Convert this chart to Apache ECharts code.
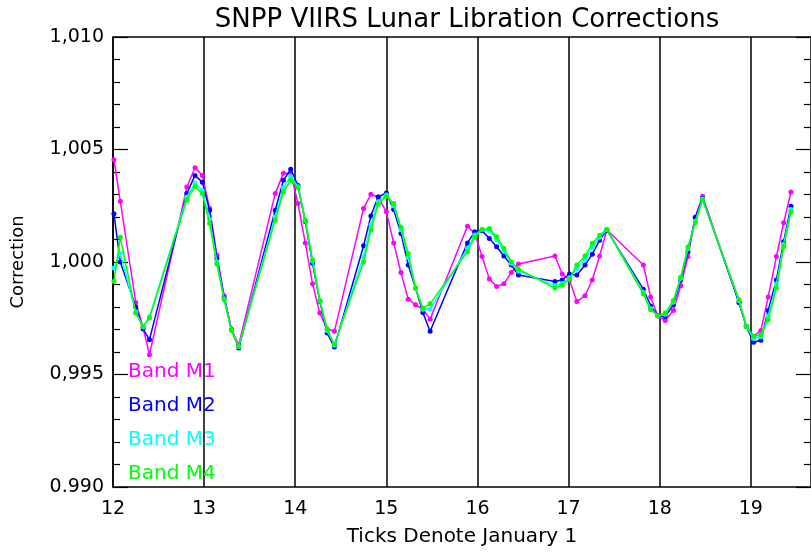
<!DOCTYPE html>
<html>
<head>
<meta charset="utf-8">
<script src="https://cdn.jsdelivr.net/npm/echarts@6/dist/echarts.min.js"></script>
<style>
  html, body { margin: 0; padding: 0; background: #fff; }
  #chart { width: 811px; height: 556px; }
</style>
</head>
<body>
<div id="chart"></div>
<script>
// observation times (fractional year, ticks denote January 1)
const years = [
  12.01, 12.08, 12.25, 12.33, 12.40, 12.81, 12.90, 12.98, 13.06, 13.14, 13.22, 13.30, 13.38,
  13.78, 13.87, 13.95, 14.03, 14.11, 14.19, 14.27, 14.35, 14.43,
  14.75, 14.83, 14.91, 15.00, 15.08, 15.16, 15.24, 15.32, 15.40, 15.48,
  15.89, 15.97, 16.05, 16.13, 16.21, 16.29, 16.37, 16.45,
  16.85, 16.93, 17.01, 17.09, 17.18, 17.26, 17.34, 17.42,
  17.82, 17.90, 17.98, 18.06, 18.15, 18.23, 18.31, 18.39, 18.47,
  18.87, 18.95, 19.03, 19.11, 19.19, 19.28, 19.36, 19.44
];
const bandM1 = [
  1.00454, 1.00270, 0.99820, 0.99710, 0.99588, 1.00333, 1.00419, 1.00385, 1.00238, 1.00030, 0.99850, 0.99700, 0.99633,
  1.00304, 1.00395, 1.00395, 1.00260, 1.00085, 0.99903, 0.99773, 0.99702, 0.99692,
  1.00238, 1.00301, 1.00289, 1.00223, 1.00085, 0.99953, 0.99835, 0.99810, 0.99791, 0.99746,
  1.00159, 1.00127, 1.00024, 0.99925, 0.99891, 0.99903, 0.99953, 0.99991,
  1.00027, 0.99947, 0.99920, 0.99824, 0.99850, 0.99920, 1.00027, 1.00142,
  0.99987, 0.99844, 0.99760, 0.99740, 0.99785, 0.99894, 1.00024, 1.00200, 1.00292,
  0.99820, 0.99714, 0.99670, 0.99696, 0.99844, 1.00024, 1.00174, 1.00311
];
const bandM2 = [
  1.00215, 1.00000, 0.99800, 0.99702, 0.99655, 1.00304, 1.00385, 1.00355, 1.00230, 1.00016, 0.99840, 0.99700, 0.99618,
  1.00230, 1.00363, 1.00412, 1.00340, 1.00180, 0.99994, 0.99824, 0.99684, 0.99622,
  1.00072, 1.00205, 1.00289, 1.00307, 1.00233, 1.00127, 0.99987, 0.99884, 0.99776, 0.99692,
  1.00085, 1.00134, 1.00139, 1.00105, 1.00068, 1.00027, 0.99987, 0.99942,
  0.99913, 0.99920, 0.99947, 0.99942, 0.99987, 1.00035, 1.00097, 1.00142,
  0.99879, 0.99805, 0.99761, 0.99758, 0.99810, 0.99920, 1.00046, 1.00198, 1.00282,
  0.99820, 0.99714, 0.99643, 0.99652, 0.99785, 0.99920, 1.00090, 1.00248
];
const bandM3 = [
  0.99973, 1.00038, 0.99778, 0.99712, 0.99757, 1.00288, 1.00350, 1.00318, 1.00190, 1.00000, 0.99836, 0.99698, 0.99624,
  1.00200, 1.00330, 1.00380, 1.00335, 1.00184, 1.00004, 0.99827, 0.99696, 0.99630,
  1.00025, 1.00165, 1.00268, 1.00298, 1.00250, 1.00145, 1.00020, 0.99884, 0.99790, 0.99790,
  1.00060, 1.00120, 1.00145, 1.00140, 1.00100, 1.00050, 0.99995, 0.99960,
  0.99895, 0.99905, 0.99930, 0.99970, 1.00012, 1.00065, 1.00110, 1.00145,
  0.99865, 0.99793, 0.99761, 0.99768, 0.99822, 0.99928, 1.00060, 1.00180, 1.00280,
  0.99828, 0.99714, 0.99660, 0.99668, 0.99760, 0.99900, 1.00078, 1.00233
];
const bandM4 = [
  0.99913, 1.00110, 0.99773, 0.99714, 0.99751, 1.00277, 1.00336, 1.00304, 1.00171, 0.99991, 0.99832, 0.99696, 0.99625,
  1.00186, 1.00311, 1.00363, 1.00330, 1.00186, 1.00009, 0.99829, 0.99702, 0.99633,
  1.00001, 1.00142, 1.00257, 1.00293, 1.00260, 1.00154, 1.00038, 0.99884, 0.99795, 0.99814,
  1.00046, 1.00110, 1.00145, 1.00149, 1.00112, 1.00061, 1.00001, 0.99968,
  0.99884, 0.99898, 0.99923, 0.99987, 1.00027, 1.00083, 1.00119, 1.00145,
  0.99858, 0.99788, 0.99761, 0.99773, 0.99829, 0.99932, 1.00068, 1.00174, 1.00277,
  0.99832, 0.99714, 0.99670, 0.99677, 0.99743, 0.99884, 1.00068, 1.00223
];
const bandNames = ['Band M1', 'Band M2', 'Band M3', 'Band M4'];
const bandColors = ['#ff00ff', '#0000ff', '#00ffff', '#00ff00'];
const yTickLabels = ['0.990', '0,995', '1,000', '1,005', '1,010'];
const xTickLabels = ['12', '13', '14', '15', '16', '17', '18', '19'];

const font = 'DejaVu Sans';
const chart = echarts.init(document.getElementById('chart'));

const yAxisCommon = {
  type: 'value',
  min: 0.990,
  max: 1.010,
  interval: 0.005,
  axisLine: { show: true, lineStyle: { color: '#000', width: 1.5 } },
  axisTick: { show: true, inside: true, length: 15, lineStyle: { color: '#000', width: 1.2 } },
  minorTick: { show: true, splitNumber: 5, length: 7, lineStyle: { color: '#000', width: 1.2 } },
  splitLine: { show: false },
};

const allBands = [bandM1, bandM2, bandM3, bandM4];

chart.setOption({
  animation: false,
  backgroundColor: '#fff',
  title: {
    text: 'SNPP VIIRS Lunar Libration Corrections',
    left: 462,
    textAlign: 'center',
    top: 2,
    textStyle: { fontFamily: font, fontSize: 26, fontWeight: 'normal', color: '#000' },
  },
  legend: {
    orient: 'vertical',
    left: 118,
    top: 357,
    icon: 'none',
    itemWidth: 0,
    itemGap: 14,
    selectedMode: false,
    data: bandNames.map((n, i) => ({
      name: n,
      textStyle: { color: bandColors[i], fontFamily: font, fontSize: 20 },
    })),
  },
  grid: { left: 113, right: -2, top: 37, bottom: 69 },
  xAxis: [
    {
      type: 'value',
      min: 12,
      max: 19.66,
      interval: 1,
      name: 'Ticks Denote January 1',
      nameLocation: 'middle',
      nameGap: 40,
      nameTextStyle: { fontFamily: font, fontSize: 20, color: '#000' },
      axisLine: { show: true, lineStyle: { color: '#000', width: 1.5 } },
      axisTick: { show: false },
      splitLine: { show: true, lineStyle: { color: '#000', width: 1.5 } },
      axisLabel: {
        margin: 13,
        showMaxLabel: false,
        fontFamily: font,
        fontSize: 19,
        color: '#000',
        formatter: (v) => {
          const k = Math.round(v - 12);
          return Math.abs(v - 12 - k) < 1e-6 && xTickLabels[k] ? xTickLabels[k] : '';
        },
      },
    },
    {
      type: 'value',
      position: 'top',
      min: 12,
      max: 19.66,
      interval: 1,
      axisLine: { show: true, lineStyle: { color: '#000', width: 1.5 } },
      axisTick: { show: false },
      axisLabel: { show: false },
      splitLine: { show: false },
    },
  ],
  yAxis: [
    Object.assign({}, yAxisCommon, {
      position: 'left',
      name: 'Correction',
      nameLocation: 'middle',
      nameGap: 86,
      nameRotate: 90,
      nameTextStyle: { fontFamily: font, fontSize: 18, color: '#000' },
      axisLabel: {
        margin: 9,
        fontFamily: font,
        fontSize: 19,
        color: '#000',
        formatter: (v) => yTickLabels[Math.round((v - 0.990) / 0.005)] || '',
      },
    }),
    Object.assign({}, yAxisCommon, {
      position: 'right',
      axisLine: { show: false },
      axisLabel: { show: false },
    }),
  ],
  series: allBands.map((vals, i) => ({
    name: bandNames[i],
    type: 'line',
    data: years.map((t, j) => [t, vals[j]]),
    symbol: 'circle',
    symbolSize: 5,
    showAllSymbol: true,
    color: bandColors[i],
    lineStyle: { width: 1.5, color: bandColors[i] },
    itemStyle: { color: bandColors[i] },
    z: 3 + i,
  })),
});
</script>
</body>
</html>
